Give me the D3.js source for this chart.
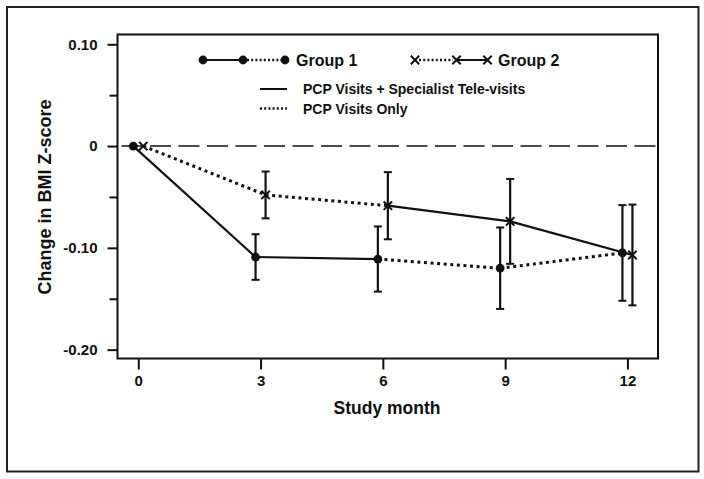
<!DOCTYPE html>
<html><head><meta charset="utf-8">
<script src="https://cdn.jsdelivr.net/npm/d3@7"></script>
<style>
body{margin:0;background:#fff}
text{font-family:"Liberation Sans",Arial,sans-serif;font-weight:bold;fill:#111}
</style>
</head><body>
<svg id="c" width="704" height="479"></svg>
<script>
// ---- data ----
const months = [0, 3, 6, 9, 12];
const xTickLabels = ["0", "3", "6", "9", "12"];
const yTicks = [0.10, 0, -0.10, -0.20];
const yTickLabels = ["0.10", "0", "-0.10", "-0.20"];
const yMinorTicks = [0.05, -0.05, -0.15];
const group1Mean = [0, -0.109, -0.111, -0.120, -0.105];
const group1Err  = [0, 0.0224, 0.032, 0.040, 0.047];
const group2Mean = [0, -0.048, -0.0586, -0.074, -0.107];
const group2Err  = [0, 0.023, 0.033, 0.0417, 0.0495];
const group1Segments = ["solid", "solid", "dotted", "dotted"];
const group2Segments = ["dotted", "dotted", "solid", "solid"];
const legendGroups = ["Group 1", "Group 2"];
const legendStyles = ["PCP Visits + Specialist Tele-visits", "PCP Visits Only"];
const xTitle = "Study month";
const yTitle = "Change in BMI Z-score";

// ---- layout ----
const svg = d3.select("#c");
const L = 117.5, R = 658, T = 34.5, B = 358.5;
const x = d3.scaleLinear().domain([-0.51, 12.75]).range([L, R]);
const y = d3.scaleLinear().domain([-0.2087, 0.1096]).range([B, T]);
const ink = "#111";
const DOT = "3,3.6";

// outer frame
svg.append("rect").attr("x", 7).attr("y", 7).attr("width", 691.5).attr("height", 464.5)
  .attr("fill", "none").attr("stroke", "#222").attr("stroke-width", 2);

// plot box
svg.append("rect").attr("x", L).attr("y", T).attr("width", R - L).attr("height", B - T)
  .attr("fill", "none").attr("stroke", ink).attr("stroke-width", 2);

// y axis
const yAxis = d3.axisLeft(y).tickValues(yTicks).tickSize(10).tickPadding(10)
  .tickFormat((d, i) => yTickLabels[i]);
const gy = svg.append("g").attr("transform", `translate(${L},0)`).call(yAxis);
gy.select(".domain").remove();
gy.selectAll("line").attr("stroke", ink).attr("stroke-width", 2);
gy.selectAll("text").attr("font-size", 15).attr("fill", ink);
const yMinor = d3.axisLeft(y).tickValues(yMinorTicks).tickSize(8).tickFormat("");
const gym = svg.append("g").attr("transform", `translate(${L},0)`).call(yMinor);
gym.select(".domain").remove();
gym.selectAll("line").attr("stroke", ink).attr("stroke-width", 2);

// x axis
const xAxis = d3.axisBottom(x).tickValues(months).tickSize(11).tickPadding(6)
  .tickFormat((d, i) => xTickLabels[i]);
const gx = svg.append("g").attr("transform", `translate(0,${B})`).call(xAxis);
gx.select(".domain").remove();
gx.selectAll("line").attr("stroke", ink).attr("stroke-width", 2);
gx.selectAll("text").attr("font-size", 15).attr("fill", ink);

// titles
svg.append("text").attr("x", 387).attr("y", 414).attr("text-anchor", "middle")
  .attr("font-size", 17.5).text(xTitle);
svg.append("text").attr("transform", `translate(51,${197}) rotate(-90)`)
  .attr("text-anchor", "middle").attr("font-size", 18).text(yTitle);

// zero reference line
svg.append("line").attr("x1", L + 4).attr("x2", R - 2).attr("y1", y(0)).attr("y2", y(0))
  .attr("stroke", ink).attr("stroke-width", 1.6).attr("stroke-dasharray", "21,7.5");

// series
const OFF = 5;
function drawSeries(means, errs, segs, dx, marker) {
  const pts = months.map((m, i) => [x(m) + dx, y(means[i])]);
  const g = svg.append("g");
  segs.forEach((s, i) => {
    g.append("path").attr("d", d3.line()([pts[i], pts[i + 1]]))
      .attr("fill", "none").attr("stroke", ink)
      .attr("stroke-width", s === "dotted" ? 3 : 2.2)
      .attr("stroke-dasharray", s === "dotted" ? DOT : null);
  });
  months.forEach((m, i) => {
    if (!errs[i]) return;
    const cx = x(m) + dx, y1 = y(means[i] + errs[i]), y2 = y(means[i] - errs[i]);
    g.append("line").attr("x1", cx).attr("x2", cx).attr("y1", y1).attr("y2", y2)
      .attr("stroke", ink).attr("stroke-width", 2.2);
    [y1, y2].forEach(yy => g.append("line").attr("x1", cx - 4).attr("x2", cx + 4)
      .attr("y1", yy).attr("y2", yy).attr("stroke", ink).attr("stroke-width", 2));
  });
  pts.forEach(p => marker(g, p[0], p[1]));
}
function circ(g, cx, cy) {
  g.append("circle").attr("cx", cx).attr("cy", cy).attr("r", 4.4).attr("fill", ink);
}
function cross(g, cx, cy) {
  const s = 4.2;
  g.append("path").attr("d", `M${cx - s},${cy - s}L${cx + s},${cy + s}M${cx - s},${cy + s}L${cx + s},${cy - s}`)
    .attr("stroke", ink).attr("stroke-width", 2).attr("fill", "none");
}
drawSeries(group1Mean, group1Err, group1Segments, -OFF, circ);
drawSeries(group2Mean, group2Err, group2Segments, OFF, cross);

// legend
const lg = svg.append("g");
function seg(x1, x2, yy, dotted) {
  lg.append("line").attr("x1", x1).attr("x2", x2).attr("y1", yy).attr("y2", yy)
    .attr("stroke", ink).attr("stroke-width", dotted ? 2.4 : 2)
    .attr("stroke-dasharray", dotted ? "2,2.2" : null);
}
seg(203, 243, 60, false); seg(247, 285, 60, true);
[203, 243, 285].forEach(px => circ(lg, px, 60));
lg.append("text").attr("x", 296).attr("y", 66).attr("font-size", 16).text(legendGroups[0]);
seg(419, 453, 60, true); seg(457, 487, 60, false);
[415, 456.5, 487.5].forEach(px => cross(lg, px, 60));
lg.append("text").attr("x", 498).attr("y", 66).attr("font-size", 16).text(legendGroups[1]);
seg(260, 287, 89, false);
lg.append("text").attr("x", 303).attr("y", 94).attr("font-size", 14).text(legendStyles[0]);
seg(260, 287, 108.5, true);
lg.append("text").attr("x", 303).attr("y", 113.5).attr("font-size", 14).text(legendStyles[1]);
</script>
</body></html>
